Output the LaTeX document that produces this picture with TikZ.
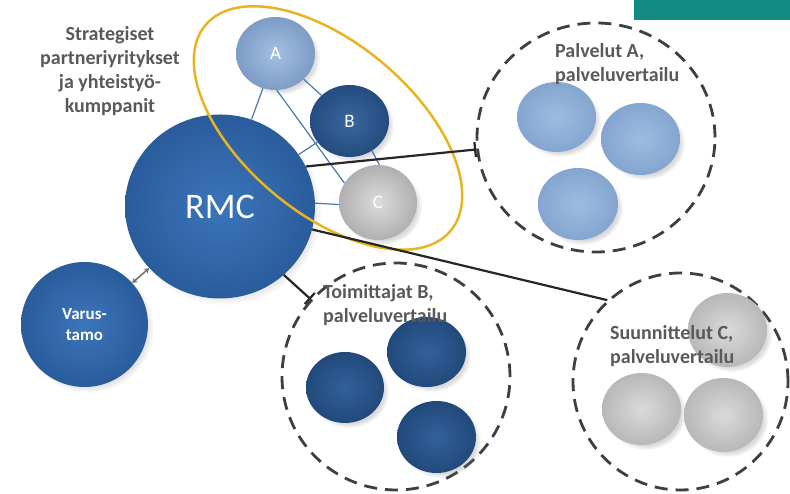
\documentclass[tikz,border=0pt]{standalone}
\usepackage{fontspec}
\setmainfont{Carlito}
\usetikzlibrary{shapes.geometric,arrows.meta,shadows,fadings}
\definecolor{rmcIn}{HTML}{3C75BA}
\definecolor{rmcOut}{HTML}{2A5C9C}
\definecolor{aIn}{HTML}{A4BFE0}
\definecolor{aOut}{HTML}{7D9CC6}
\definecolor{bIn}{HTML}{3A679F}
\definecolor{bOut}{HTML}{244C80}
\definecolor{cIn}{HTML}{DCDCDC}
\definecolor{cOut}{HTML}{B0B0B0}
\definecolor{saIn}{HTML}{9DBCE2}
\definecolor{saOut}{HTML}{84A5CF}
\definecolor{sbIn}{HTML}{32619C}
\definecolor{sbOut}{HTML}{22497B}
\definecolor{scIn}{HTML}{DADADA}
\definecolor{scOut}{HTML}{B8B8B8}
\definecolor{txtgrey}{HTML}{595959}
\definecolor{dashgrey}{HTML}{3F3F3F}
\definecolor{connblack}{HTML}{262626}
\definecolor{thinblue}{HTML}{4A78AC}
\definecolor{gold}{HTML}{E8B420}
\definecolor{tealbar}{HTML}{128A84}
\tikzset{
  bub/.style={ellipse, inner sep=0pt,
    circular drop shadow={shadow scale=1.03, shadow xshift=4pt, shadow yshift=-4pt, opacity=0.3}},
  bigbub/.style={bub, inner color=rmcIn, outer color=rmcOut},
  bubA/.style={bub, inner color=aIn, outer color=aOut, text=white, font=\fontsize{19}{22}\selectfont},
  bubB/.style={bub, inner color=bIn, outer color=bOut, text=white, font=\fontsize{19}{22}\selectfont},
  bubC/.style={bub, inner color=cIn, outer color=cOut, text=white, font=\fontsize{19}{22}\selectfont},
  smA/.style={bub, inner color=saIn, outer color=saOut},
  smB/.style={bub, inner color=sbIn, outer color=sbOut},
  smC/.style={bub, inner color=scIn, outer color=scOut},
  thinline/.style={draw=thinblue, line width=1.2pt},
  conn/.style={draw=connblack, line width=2.2pt},
  dashring/.style={ellipse, draw=dashgrey, line width=2.8pt, dash pattern=on 13pt off 8pt, inner sep=0pt},
  lbl/.style={text=txtgrey, font=\bfseries\fontsize{20}{24}\selectfont, inner sep=0pt},
}
\begin{document}
\begin{tikzpicture}[x=1pt,y=1pt]
\useasboundingbox (0,0) rectangle (790,494);
\fill[tealbar] (634,474) rectangle (790,494);

% partner circles
\node[bubA, minimum width=79pt, minimum height=73pt] (A) at (275.5,440.5) {A};
\node[bubB, minimum width=79pt, minimum height=72pt] (B) at (349.5,373) {B};
\node[bubC, minimum width=78pt, minimum height=75pt] (C) at (378,291.5) {C};

% main circles
\node[bigbub, minimum width=190pt, minimum height=184pt, text=white,
      font=\fontsize{36}{40}\selectfont] (rmc) at (220,287.5) {RMC};
\node[bigbub, minimum width=127pt, minimum height=125pt, text=white, align=center,
      font=\bfseries\fontsize{17}{21}\selectfont] (var) at (84.5,169.5) {Varus-\\tamo};

% thin partner links
\draw[thinline] (A) -- (rmc);
\draw[thinline] (A.-88) -- (C.150);
\draw[thinline] (A) -- (B);
\draw[thinline] (B) -- (rmc);
\draw[thinline] (B.-53) -- (C.88);
\draw[thinline] (rmc.2) -- (C.183);

% double arrow
\draw[draw=black!55, line width=1.6pt,
      {Stealth[length=5pt,width=6pt]}-{Stealth[length=5pt,width=6pt]}] (var) -- (rmc);

% yellow ring
\node[ellipse, draw=gold, line width=2.5pt, minimum width=320pt, minimum height=170pt,
      inner sep=0pt, rotate=-40] (ring) at (328,366) {};

% dashed groups
\node[dashring, minimum width=238pt, minimum height=229pt] (dA) at (596,356.5) {};
\node[dashring, minimum width=228pt, minimum height=227pt] (dB) at (396,117.5) {};
\node[dashring, minimum width=215pt, minimum height=217pt] (dC) at (680.5,112.5) {};

% connectors
\draw[conn, -{Bar[width=15pt,line width=2.2pt]}] (rmc.25) -- (dA);
\draw[conn, -{Bar[width=15pt,line width=2.2pt]}] (rmc.-47) -- (dB);
\draw[conn] (rmc.-14) -- (dC.132);

% small circles
\node[smA, minimum width=79pt, minimum height=70pt] (a1) at (556.5,377) {};
\node[smA, minimum width=79pt, minimum height=72pt] (a2) at (640.5,355) {};
\node[smA, minimum width=80pt, minimum height=72pt] (a3) at (578,290) {};
\node[smB, minimum width=78pt, minimum height=71pt] (b1) at (345,106.5) {};
\node[smB, minimum width=79pt, minimum height=70pt] (b2) at (426.5,142) {};
\node[smB, minimum width=79pt, minimum height=72pt] (b3) at (436.5,57) {};
\node[smC, minimum width=79pt, minimum height=74pt] (c1) at (727.5,164) {};
\node[smC, minimum width=79pt, minimum height=72pt] (c2) at (641.5,85) {};
\node[smC, minimum width=79pt, minimum height=74pt] (c3) at (723.5,79) {};

% labels
\node[lbl, align=center] (title) at (110,422.5) {Strategiset\\partneriyritykset\\ja yhteistyö-\\kumppanit};
\node[lbl, align=left, anchor=west] (labA) at (555,429.5) {Palvelut A,\\palveluvertailu};
\node[lbl, align=left, anchor=west] (labB) at (323,188.5) {Toimittajat B,\\palveluvertailu};
\node[lbl, align=left, anchor=west] (labC) at (610,147.5) {Suunnittelut C,\\palveluvertailu};
\end{tikzpicture}
\end{document}
